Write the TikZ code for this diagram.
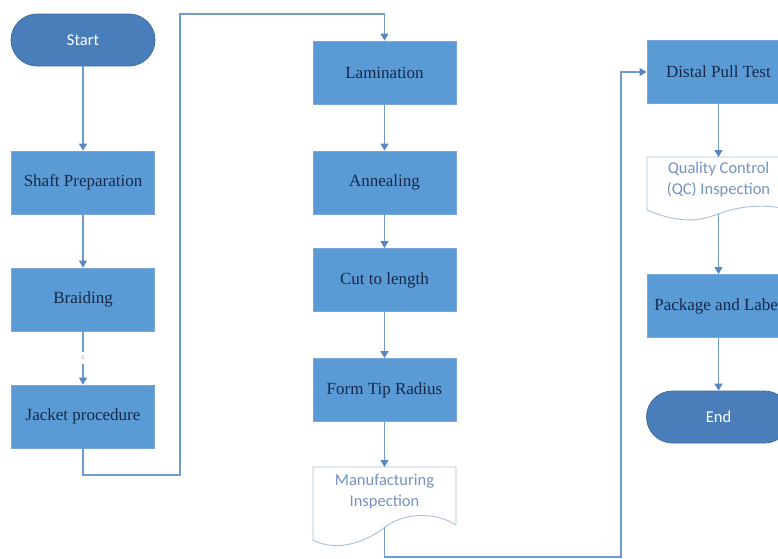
\documentclass[tikz,border=0pt]{standalone}
\usepackage{fontspec}
\setmainfont{Liberation Serif}
\newfontfamily\calib{Carlito}
\usetikzlibrary{arrows.meta}
\definecolor{boxfill}{HTML}{5B9BD5}
\definecolor{boxedge}{HTML}{7AA8DA}
\definecolor{pillfill}{HTML}{4A7EBB}
\definecolor{pilledge}{HTML}{41719C}
\definecolor{navy}{HTML}{16294A}
\definecolor{docedge}{HTML}{A9BFDA}
\definecolor{doctext}{HTML}{7393C2}
\definecolor{linkcol}{HTML}{6E9BD1}
\definecolor{tipcol}{HTML}{5A87C0}
\tikzset{
  procbox/.style={rectangle, fill=boxfill, draw=boxedge, line width=0.8pt,
    minimum width=143pt, minimum height=63pt, inner sep=0pt,
    text=navy, font=\fontsize{17}{20}\selectfont},
  pill/.style={rectangle, rounded corners=26pt, fill=pillfill, draw=pilledge,
    line width=0.8pt, minimum width=144pt, minimum height=52pt, inner sep=0pt,
    text=white, font=\calib\fontsize{16.5}{20}\selectfont},
  docshape/.style={fill=white, draw=docedge, line width=0.9pt},
  doclabel/.style={align=center, text=doctext, inner sep=0pt,
    font=\calib\fontsize{16.5}{21}\selectfont},
  link/.style={draw=linkcol, line width=1.3pt,
    -{Triangle[length=7pt,width=8pt,fill=tipcol,color=tipcol]}},
  plainlink/.style={draw=linkcol, line width=1.3pt}
}
\begin{document}
\begin{tikzpicture}[x=1pt, y=-1pt]
\useasboundingbox (0,0) rectangle (778,558);
\clip (0,0) rectangle (778,558);
\fill[white] (0,0) rectangle (778,558);

% left column
\node[pill]    (start)  at (83,40)    {Start};
\node[procbox] (shaft)  at (83,182.5) {Shaft Preparation};
\node[procbox] (braid)  at (83,299.5) {Braiding};
\node[procbox] (jacket) at (83,416.5) {Jacket procedure};

% middle column
\node[procbox] (lam)  at (384.5,72.5)  {Lamination};
\node[procbox] (ann)  at (384.5,182.5) {Annealing};
\node[procbox] (cut)  at (384.5,280)   {Cut to length};
\node[procbox] (form) at (384.5,390)   {Form Tip Radius};

% manufacturing inspection document
\draw[docshape] (313,467) -- (456,467) -- (456,525)
  .. controls (436,512) and (405,512) .. (385,527)
  .. controls (365,543) and (336,552) .. (313,540) -- cycle;
\node[doclabel] (minsp) at (384.5,492) {Manufacturing\\Inspection};
\coordinate (mtop) at (384.5,467);
\coordinate (mbot) at (384.5,527);

% right column
\node[procbox] (distal) at (718.5,72)  {Distal Pull Test};
\draw[docshape] (647,157) -- (790,157) -- (790,210)
  .. controls (770,204) and (740,205) .. (718,214)
  .. controls (700,221) and (680,224) .. (647,210) -- cycle;
\node[doclabel] (qc) at (718.5,180) {Quality Control\\(QC) Inspection};
\coordinate (qtop) at (718.5,157);
\coordinate (qbot) at (718.5,214);
\node[procbox] (pack) at (718.5,306) {Package and Label};
\node[pill]    (end)  at (718.5,417) {End};

% connectors
\draw[link] (start) -- (shaft);
\draw[link] (shaft) -- (braid);
\draw[plainlink] (braid.south) -- (83,352);
\node[inner sep=0pt, text=gray!80, font=\calib\fontsize{7}{8}\selectfont] (cmark) at (83,358) {c};
\draw[link] (83,364) -- (jacket.north);

\coordinate (c1) at (180,475);
\coordinate (c2) at (180,14);
\draw[link] (jacket.south) |- (c1) -- (c2) -| (lam.north);

\draw[link] (lam) -- (ann);
\draw[link] (ann) -- (cut);
\draw[link] (cut) -- (form);
\draw[link] (form.south) -- (mtop);

\coordinate (r1) at (621,557);
\draw[link] (mbot) |- (r1) |- (distal.west);

\draw[link] (distal.south) -- (qtop);
\draw[link] (qbot) -- (pack.north);
\draw[link] (pack) -- (end);
\end{tikzpicture}
\end{document}
